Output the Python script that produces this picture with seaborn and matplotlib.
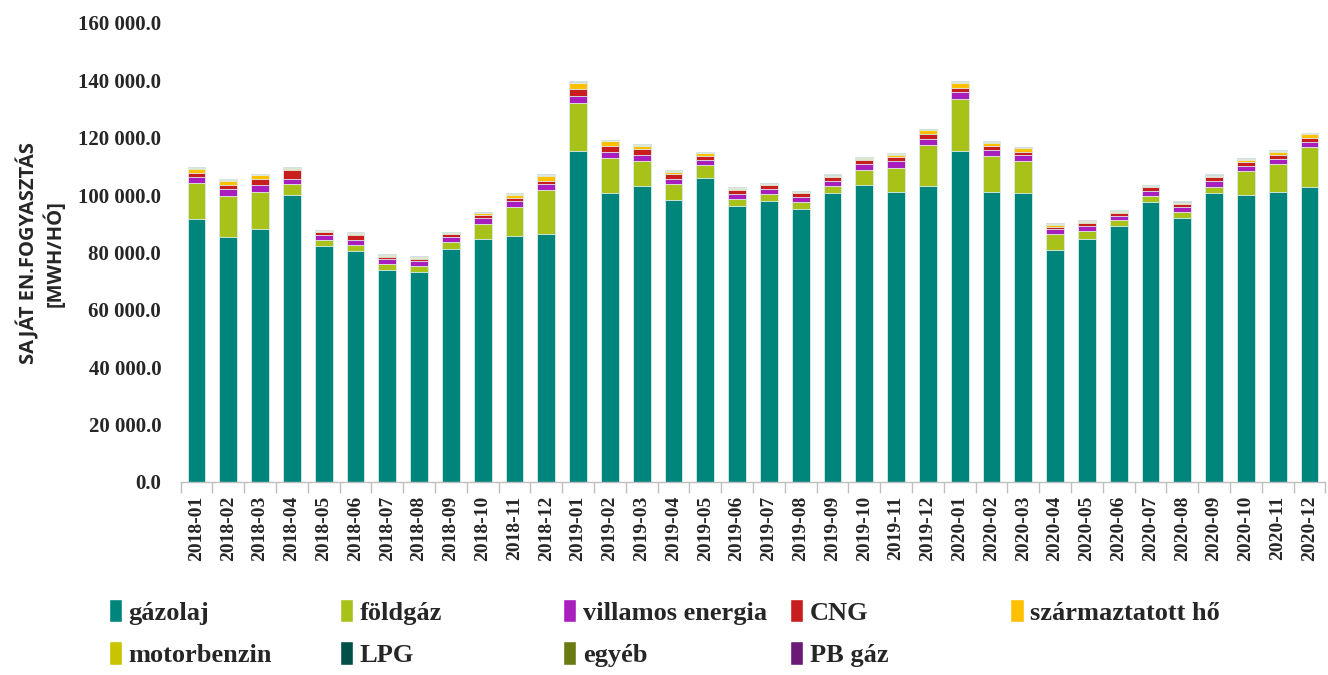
import numpy as np
import pandas as pd
import matplotlib
matplotlib.use("Agg")
import matplotlib.pyplot as plt
import seaborn as sns
from matplotlib.patches import Patch
from matplotlib.ticker import FuncFormatter, MultipleLocator

# Monthly own energy consumption [MWh/month]
months = [f"{y}-{m:02d}" for y in (2018, 2019, 2020) for m in range(1, 13)]

gazolaj = [91630, 85470, 88150, 100100, 82330, 80590, 73970, 73270, 81290, 84660, 85810, 86510,
           115430, 100690, 103230, 98360, 106020, 96270, 98010, 95220, 100800, 103470, 101150, 103230,
           115430, 101150, 100800, 80720, 84560, 89090, 97550, 92080, 100580, 99890, 101150, 102680]
foldgaz = [12440, 14280, 12890, 3620, 2090, 1980, 2090, 2090, 2440, 5230, 10000, 15220,
           16620, 12190, 8610, 5360, 4420, 2330, 2230, 2330, 2220, 5340, 8360, 14180,
           18010, 12320, 11040, 5790, 3000, 2090, 2200, 1990, 2300, 8460, 9540, 13930]
villamos = [2300, 2220, 2330, 1740, 1630, 1640, 1630, 1640, 1630, 1980, 1980, 2200,
            2430, 2090, 1980, 1740, 1640, 1640, 1730, 1740, 1750, 1880, 2220, 2200,
            2330, 2090, 1980, 1640, 1630, 1600, 1740, 1740, 1890, 1630, 1840, 1950]
cng = [1400, 1620, 2190, 3140, 940, 1950, 800, 800, 940, 1050, 1260, 1050,
       2440, 2200, 2090, 1950, 1610, 1600, 1620, 1510, 1490, 1490, 1390, 1530,
       1600, 1400, 1260, 800, 1150, 1050, 1190, 1150, 1370, 1610, 1510, 1390]
szarmaztatott = [1400, 1390, 1300, 560, 350, 300, 250, 250, 300, 700, 1050, 1740,
                 1980, 1530, 1150, 700, 830, 300, 200, 200, 250, 460, 920, 1500,
                 1650, 1260, 1290, 700, 250, 300, 250, 250, 350, 700, 930, 1400]
motorbenzin = [200, 200, 150, 200, 150, 200, 300, 250, 200, 200, 200, 150,
               300, 150, 250, 200, 150, 200, 150, 150, 200, 200, 200, 150,
               250, 200, 150, 150, 200, 250, 200, 200, 250, 200, 250, 120]
lpg = [150, 130, 100, 140, 100, 120, 150, 120, 120, 120, 140, 110,
       180, 100, 150, 140, 100, 120, 110, 110, 150, 130, 130, 100,
       150, 130, 100, 100, 120, 150, 150, 160, 180, 130, 150, 80]
egyeb = [150, 150, 120, 150, 120, 150, 150, 130, 150, 130, 150, 120,
         200, 120, 180, 150, 120, 150, 180, 180, 200, 150, 150, 120,
         170, 150, 120, 120, 150, 170, 200, 200, 220, 150, 180, 90]
pb_gaz = [100, 100, 80, 100, 80, 110, 100, 80, 80, 100, 100, 100,
          130, 80, 120, 100, 80, 120, 140, 140, 150, 110, 100, 80,
          120, 100, 80, 100, 120, 120, 140, 140, 170, 110, 120, 60]

series = ["gázolaj", "földgáz", "villamos energia", "CNG", "származtatott hő",
          "motorbenzin", "LPG", "egyéb", "PB gáz"]
values = [gazolaj, foldgaz, villamos, cng, szarmaztatott, motorbenzin, lpg, egyeb, pb_gaz]
colors = ["#00857D", "#A8C21A", "#A81FBE", "#C81E1E", "#FFC000",
          "#C8C400", "#00504A", "#6B7A12", "#6B1A78"]

df = pd.DataFrame(dict(zip(series, values)), index=months)
cum = df.cumsum(axis=1)

sns.set_theme(style="white")
plt.rcParams["font.family"] = ["Liberation Serif", "DejaVu Serif"]

fig = plt.figure(figsize=(13.28, 6.75), dpi=100)
ax = fig.add_axes([0.136, 0.286, 0.862, 0.680])

# stacked bars: draw cumulative totals from the top layer down
for name, col in reversed(list(zip(series, colors))):
    sns.barplot(x=months, y=cum[name].values, color=col, width=0.56,
                edgecolor="#dfeeee", linewidth=0.6, ax=ax, saturation=1)

ax.set_ylim(0, 160000)
ax.set_xlim(-0.5, len(months) - 0.5)
ax.yaxis.set_major_locator(MultipleLocator(20000))
ax.yaxis.set_major_formatter(FuncFormatter(lambda v, p: f"{v:,.1f}".replace(",", " ")))
for lab in ax.get_yticklabels():
    lab.set_fontweight("bold")
    lab.set_fontsize(15)
ax.tick_params(axis="y", length=0, pad=14)

ax.set_xticks(range(len(months)))
ax.set_xticklabels(months, rotation=90, fontsize=14, fontweight="bold")
ax.set_xticks(np.arange(-0.5, len(months), 1), minor=True)
ax.tick_params(axis="x", which="major", length=0, pad=10)
ax.tick_params(axis="x", which="minor", length=8, color="#bfbfbf", width=1, bottom=True)

for s in ["top", "right", "left"]:
    ax.spines[s].set_visible(False)
ax.spines["bottom"].set_color("#bfbfbf")
ax.spines["bottom"].set_linewidth(1)
ax.set_xlabel("")

fig.text(0.021, 0.625, "SAJÁT EN.FOGYASZTÁS", rotation=90, ha="center", va="center",
         fontsize=14.5, fontweight="bold", family=["Open Sans", "DejaVu Sans"])
fig.text(0.041, 0.625, "[MWH/HÓ]", rotation=90, ha="center", va="center",
         fontsize=14.5, fontweight="bold", family=["Open Sans", "DejaVu Sans"])

# legend: five columns, two rows
col_x = [0.064, 0.238, 0.406, 0.577, 0.743]
for i, x in enumerate(col_x):
    idx = [j for j in (i, i + 5) if j < len(series)]
    handles = [Patch(facecolor=colors[j], label=series[j]) for j in idx]
    fig.legend(handles=handles, loc="upper left", bbox_to_anchor=(x, 0.148),
               frameon=False, handlelength=0.5, handleheight=1.0, handletextpad=0.25,
               labelspacing=0.62, prop={"size": 19, "weight": "bold"})

fig.savefig("out.png", dpi=100)
